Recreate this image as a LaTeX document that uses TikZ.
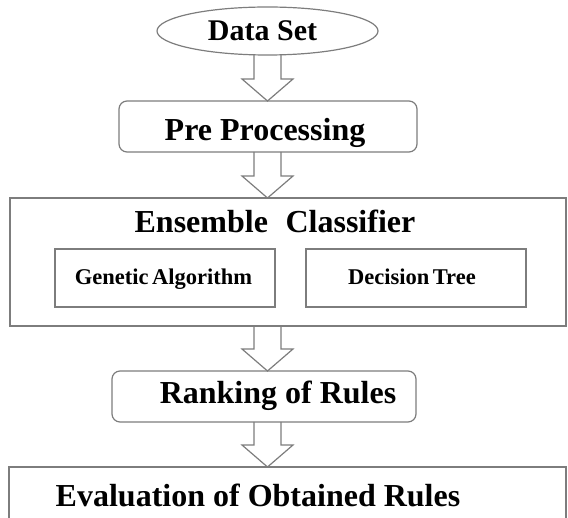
\documentclass[tikz,border=0pt]{standalone}
\usepackage{fontspec}
\setmainfont{Liberation Serif}
\usetikzlibrary{shapes.geometric,calc}
\definecolor{linegray}{RGB}{125,125,125}
\tikzset{
  frame/.style={draw=linegray, line width=1.2pt, inner sep=0pt, outer sep=0pt},
  roundframe/.style={frame, rounded corners=8pt},
  bigtxt/.style={font=\bfseries\fontsize{32}{38}\selectfont, inner sep=0pt, anchor=base},
  smalltxt/.style={font=\bfseries\fontsize{22.5}{27}\selectfont, inner sep=0pt, anchor=base},
  arrline/.style={draw=linegray, line width=1.2pt, line join=miter}
}
\newcommand\blkarr[3]{\draw[arrline] let \p1=(#2.south), \p2=(#3.north) in
  (#1-13.5pt,\y1) -- (#1-13.5pt,\y2+22pt) -- (#1-25.5pt,\y2+22pt) -- (#1,\y2)
  -- (#1+25.5pt,\y2+22pt) -- (#1+13.5pt,\y2+22pt) -- (#1+13.5pt,\y1);}
\begin{document}
\begin{tikzpicture}[x=1pt,y=-1pt]
\useasboundingbox (0,0) rectangle (568,518);
\begin{scope}
\clip (0,0) rectangle (568,518);
% Data Set
\node[frame, ellipse, minimum width=221pt, minimum height=48pt] (data) at (267.5,31) {};
\node[bigtxt, font=\bfseries\fontsize{30}{36}\selectfont] (datatxt) at (262.5,41) {Data Set};
% Pre Processing
\node[roundframe, minimum width=298pt, minimum height=51pt] (pre) at (268,126.5) {};
\node[bigtxt] (pretxt) at (265,141) {Pre Processing};
% Ensemble
\node[frame, minimum width=556pt, minimum height=128pt] (ens) at (288,262) {};
\node[bigtxt] (enstxt) at (275,233) {Ensemble\hspace{0.3em} Classifier};
\node[frame, minimum width=220pt, minimum height=58pt] (ga) at (165,278) {};
\node[smalltxt] (gatxt) at (163.5,285) {Genetic\hspace{-0.1em} Algorithm};
\node[frame, minimum width=220pt, minimum height=58pt] (dt) at (416,278) {};
\node[smalltxt] (dttxt) at (412,285) {Decision\hspace{-0.1em} Tree};
% Ranking
\node[roundframe, minimum width=304pt, minimum height=51pt] (rank) at (264,396.5) {};
\node[bigtxt] (ranktxt) at (278,404) {Ranking of Rules};
% Evaluation
\node[frame, minimum width=557pt, minimum height=52pt] (eval) at (287.5,493) {};
\node[bigtxt] (evaltxt) at (258,507) {Evaluation of Obtained Rules};
% arrows
\blkarr{267.5pt}{data}{pre}
\blkarr{267.5pt}{pre}{ens}
\blkarr{267.5pt}{ens}{rank}
\blkarr{267.5pt}{rank}{eval}
\end{scope}
\end{tikzpicture}
\end{document}
